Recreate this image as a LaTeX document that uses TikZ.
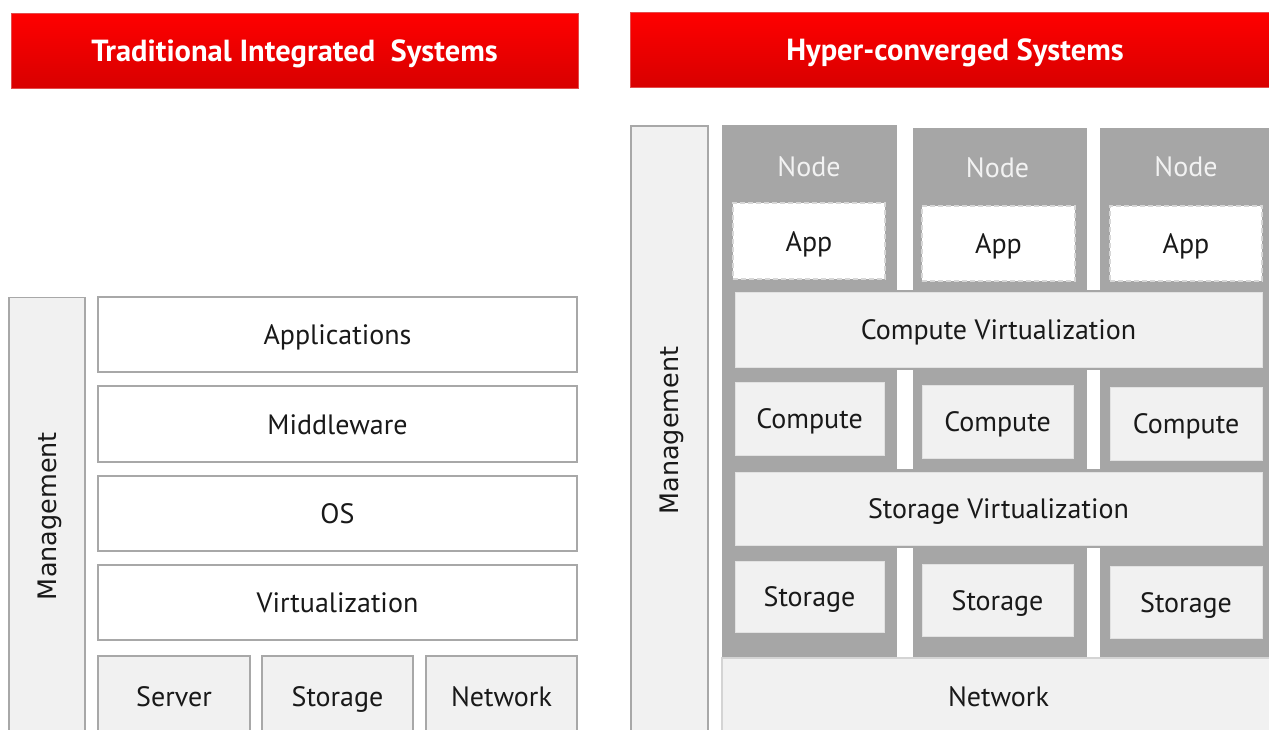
\documentclass[tikz,border=0pt]{standalone}
\usepackage{fontspec}
\setmainfont{PT Sans}
\newfontfamily\mgmtfont{DejaVu Sans}
\definecolor{hdrtop}{RGB}{255,0,0}
\definecolor{hdrbot}{RGB}{216,0,0}
\definecolor{bordergray}{RGB}{168,168,168}
\definecolor{lightfill}{RGB}{241,241,241}
\definecolor{darkgray}{RGB}{166,166,166}
\definecolor{txt}{RGB}{25,25,25}
\definecolor{nodetxt}{RGB}{242,242,242}
\definecolor{dashgray}{RGB}{215,215,215}
\tikzset{
  x=1pt, y=-1pt,
  every node/.style={inner sep=0pt, outer sep=0pt},
  capcenter/.style={text height=20pt, text depth=0pt},
  header/.style={rectangle, top color=hdrtop, bottom color=hdrbot, draw=hdrbot!70!white, line width=0.6pt, text=white, font=\bfseries\fontsize{30.5}{32}\selectfont, text height=21pt, text depth=0pt},
  layer/.style={rectangle, draw=bordergray, line width=1.6pt, fill=white, text=txt, font=\fontsize{28}{30}\selectfont, capcenter},
  hwbox/.style={layer, fill=lightfill},
  mgmt/.style={rectangle, draw=bordergray, line width=1.6pt, fill=lightfill, text=txt, font=\mgmtfont\fontsize{25.5}{28}\selectfont, text height=18.5pt, text depth=0pt},
  column/.style={rectangle, fill=darkgray},
  inner/.style={rectangle, fill=lightfill, draw=lightfill!80!darkgray, line width=0.6pt, text=txt, font=\fontsize{28}{30}\selectfont, capcenter},
  appbox/.style={rectangle, fill=white, draw=dashgray, dash pattern=on 5pt off 3pt, line width=1.4pt, text=txt, font=\fontsize{28}{30}\selectfont, capcenter},
  nodelabel/.style={text=nodetxt, font=\fontsize{28}{30}\selectfont, capcenter},
}
\begin{document}
\begin{tikzpicture}
\useasboundingbox (0,0) rectangle (1269,729);
\clip (0,0) rectangle (1269,729);
\fill[white] (0,0) rectangle (1269,729);
% headers
\node[header, minimum width=567, minimum height=75] (hdrL) at (294.5,50.5) {Traditional Integrated\ \ Systems};
\node[header, minimum width=650, minimum height=75] (hdrR) at (955,49.5) {Hyper-converged Systems};
% left side
\node[mgmt, rotate=90, minimum width=437, minimum height=76] (mgmtL) at (47,516) {Management};
\node[layer, minimum width=479, minimum height=75] (apps) at (337.5,334.5) {Applications};
\node[layer, minimum width=479, minimum height=76] (mw) at (337.5,424) {Middleware};
\node[layer, minimum width=479, minimum height=75] (os) at (337.5,513.5) {OS};
\node[layer, minimum width=479, minimum height=75] (virt) at (337.5,602.5) {Virtualization};
\node[hwbox, minimum width=152, minimum height=80] (server) at (174,696) {Server};
\node[hwbox, minimum width=151, minimum height=80] (storL) at (337.5,696) {Storage};
\node[hwbox, minimum width=151, minimum height=80] (netL) at (501.5,696) {Network};
% right side
\node[mgmt, rotate=90, minimum width=609, minimum height=77] (mgmtR) at (669.5,430.5) {Management};
\node[column, minimum width=175, minimum height=533, anchor=north west] (col1) at (722,125) {};
\node[column, minimum width=174, minimum height=530, anchor=north west] (col2) at (913,128) {};
\node[column, minimum width=175, minimum height=530, anchor=north west] (col3) at (1100,128) {};
\node[column, minimum width=553, minimum height=80, anchor=north west] (strip1) at (722,290) {};
\node[column, minimum width=553, minimum height=79, anchor=north west] (strip2) at (722,469) {};
\node[nodelabel] (n1) at (809,166) {Node};
\node[nodelabel] (n2) at (997.5,167) {Node};
\node[nodelabel] (n3) at (1186,166) {Node};
\node[appbox, minimum width=152, minimum height=76] (app1) at (809,241) {App};
\node[appbox, minimum width=153, minimum height=75] (app2) at (998.5,243.5) {App};
\node[appbox, minimum width=152, minimum height=75] (app3) at (1186,243.5) {App};
\node[inner, minimum width=527, minimum height=75] (cv) at (998.5,329.5) {Compute Virtualization};
\node[inner, minimum width=149, minimum height=73] (c1) at (809.5,418.5) {Compute};
\node[inner, minimum width=151, minimum height=73] (c2) at (997.5,421.5) {Compute};
\node[inner, minimum width=152, minimum height=73] (c3) at (1186,423.5) {Compute};
\node[inner, minimum width=527, minimum height=73] (sv) at (998.5,508.5) {Storage Virtualization};
\node[inner, minimum width=149, minimum height=71] (s1) at (809.5,596.5) {Storage};
\node[inner, minimum width=151, minimum height=72] (s2) at (997.5,600) {Storage};
\node[inner, minimum width=152, minimum height=72] (s3) at (1186,602) {Storage};
\node[layer, fill=lightfill, draw=lightfill!60!bordergray, minimum width=553, minimum height=76, anchor=north west] (netR) at (722,658) {};
\node[text=txt, font=\fontsize{28}{30}\selectfont, capcenter] (netRlabel) at (998.5,696) {Network};
\end{tikzpicture}
\end{document}
